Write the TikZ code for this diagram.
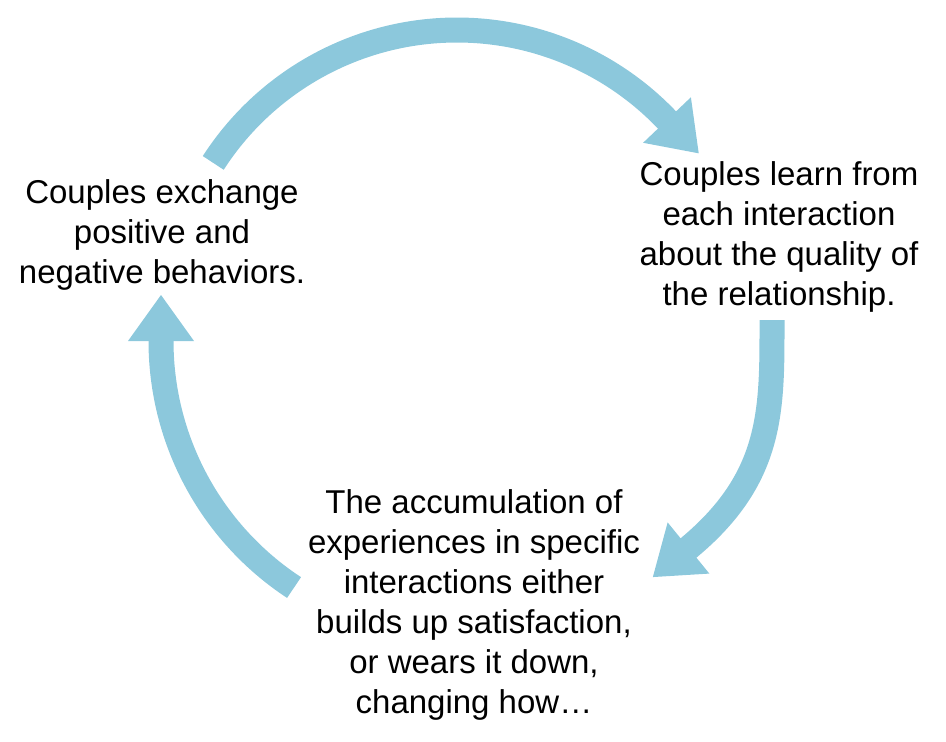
\documentclass[tikz,border=0pt]{standalone}
\usepackage{fontspec}
\setmainfont{Liberation Sans}
\usetikzlibrary{calc}
\definecolor{arrowblue}{RGB}{140,200,220}
\tikzset{
  shaft/.style={draw=arrowblue, line width=25pt, line cap=butt},
  headtri/.style={fill=arrowblue, draw=none},
  txt/.style={font=\fontsize{33}{40}\selectfont, align=center, inner sep=0pt, anchor=base, text=black}
}
\begin{document}
\begin{tikzpicture}[x=1pt,y=-1pt]
\useasboundingbox (0,0) rectangle (946,742);
% text blocks (base anchor = baseline of last line)
\node[txt] (L) at (162,283) {Couples exchange\\positive and\\negative behaviors.};
\node[txt] (R) at (779,305) {Couples learn from\\each interaction\\about the quality of\\the relationship.};
\node[txt] (B) at (474,713) {The accumulation of\\experiences in specific\\interactions either\\builds up satisfaction,\\or wears it down,\\changing how\dots};
% arc centres
\coordinate (c1) at (457,320);
\coordinate (c3) at (456,341);
% top arrow: L -> R
\coordinate (t1) at ($(c1)+(212.8:290)$);
\coordinate (h1) at ($(c1)+(316.4:290)$);
\draw[shaft] (t1) arc[start angle=212.8, end angle=317, radius=290];
\fill[headtri] ($(c1)+(316.4:323)$) -- ($(h1)+(46.4:46)$) -- ($(c1)+(316.4:257)$) -- cycle;
% right arrow: R -> B
\coordinate (t2) at (772,320);
\coordinate (h2) at (688.5,548);
\draw[shaft] (t2) .. controls (772,410) and (773.8,478.4) .. ($(h2)+(140.8:3)$);
\fill[headtri] ($(h2)+(50.8:33)$) -- ($(h2)+(140.8:46)$) -- ($(h2)+(230.8:33)$) -- cycle;
% left arrow: B -> L
\coordinate (t3) at ($(c3)+(123.3:295)$);
\coordinate (h3) at ($(c3)+(180:295)$);
\draw[shaft] (t3) arc[start angle=123.3, end angle=180.5, radius=295];
\fill[headtri] ($(c3)+(180:262)$) -- ($(h3)+(270:46)$) -- ($(c3)+(180:328)$) -- cycle;
\end{tikzpicture}
\end{document}
